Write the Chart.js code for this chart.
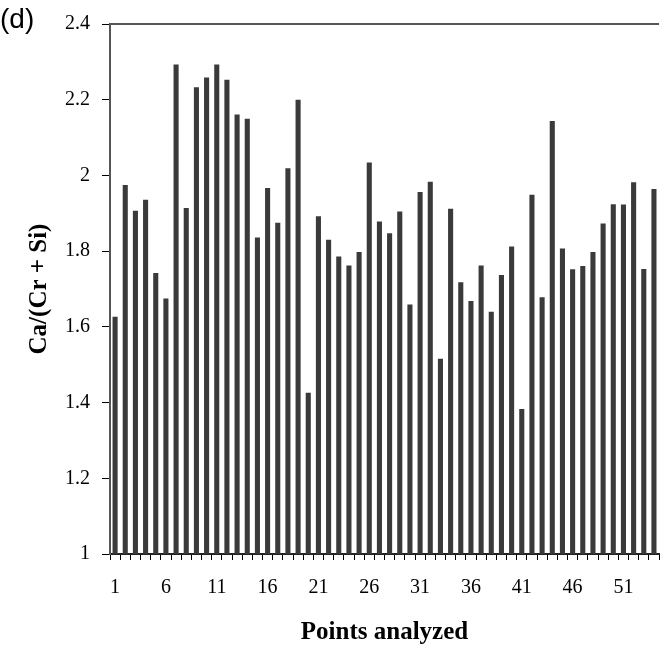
<!DOCTYPE html>
<html>
<head>
<meta charset="utf-8">
<script src="https://cdn.jsdelivr.net/npm/chart.js@4"></script>
<style>
  html, body { margin: 0; padding: 0; background: #fff; overflow: hidden; }
  #wrap { position: relative; width: 670px; height: 650px; }
  #panel { position: absolute; left: 0; top: 3px; font: 28px "Liberation Sans", Arial, sans-serif; color: #000; }
</style>
</head>
<body>
<div id="wrap">
  <canvas id="chart" width="670" height="650"></canvas>
  <div id="panel">(d)</div>
</div>
<script>
// points analyzed (category labels)
const points = [
    1, 2, 3, 4, 5, 6, 7, 8, 9, 10, 11, 12, 13, 14, 15, 16, 17, 18,
    19, 20, 21, 22, 23, 24, 25, 26, 27, 28, 29, 30, 31, 32, 33, 34, 35, 36,
    37, 38, 39, 40, 41, 42, 43, 44, 45, 46, 47, 48, 49, 50, 51, 52, 53, 54
];

// Ca/(Cr + Si) ratio
const ratio = [
    1.627, 1.975, 1.907, 1.936, 1.742, 1.675, 2.293, 1.914, 2.233, 2.259,
    2.293, 2.253, 2.161, 2.150, 1.836, 1.967, 1.875, 2.019, 2.200, 1.426,
    1.892, 1.830, 1.786, 1.762, 1.798, 2.034, 1.878, 1.847, 1.905, 1.659,
    1.956, 1.983, 1.516, 1.912, 1.718, 1.668, 1.762, 1.640, 1.737, 1.812,
    1.383, 1.949, 1.678, 2.144, 1.807, 1.752, 1.761, 1.798, 1.873, 1.924,
    1.923, 1.982, 1.753, 1.964
];

const yMin = 1;
const yMax = 2.4;
const yStep = 0.2;

const serif = '"Liberation Serif", "Times New Roman", serif';

// frame line along the top of the plot
const topFrame = {
    id: 'topFrame',
    afterDraw(chart) {
        const { ctx, chartArea } = chart;
        ctx.save();
        ctx.strokeStyle = '#555';
        ctx.lineWidth = 2;
        ctx.beginPath();
        ctx.moveTo(chartArea.left, chartArea.top);
        ctx.lineTo(chartArea.right, chartArea.top);
        ctx.stroke();
        ctx.restore();
    }
};

const ctx = document.getElementById('chart').getContext('2d');
new Chart(ctx, {
    type: 'bar',
    data: {
        labels: points,
        datasets: [{
            data: ratio,
            backgroundColor: '#3a3a3a',
            borderWidth: 0,
            barPercentage: 0.5,
            categoryPercentage: 1.0
        }]
    },
    options: {
        responsive: false,
        animation: false,
        layout: { padding: { left: 0, top: 20, right: 5, bottom: 0 } },
        plugins: {
            legend: { display: false },
            tooltip: { enabled: false }
        },
        scales: {
            x: {
                afterFit: scale => { scale.height = 96; },
                grid: {
                    drawOnChartArea: false,
                    drawTicks: true,
                    tickLength: 6,
                    color: '#000',
                    offset: true
                },
                border: { display: true, color: '#222', width: 2 },
                ticks: {
                    autoSkip: false,
                    maxRotation: 0,
                    padding: 16,
                    color: '#000',
                    font: { family: serif, size: 20 },
                    callback: (val, i) => (i % 5 === 0 ? points[i] : '')
                },
                title: {
                    display: true,
                    text: 'Points analyzed',
                    color: '#000',
                    font: { family: serif, size: 25, weight: 'bold' },
                    padding: { top: 0, bottom: 2 }
                }
            },
            y: {
                min: yMin,
                max: yMax,
                afterFit: scale => { scale.width = 110; },
                grid: {
                    drawOnChartArea: false,
                    drawTicks: true,
                    tickLength: 8,
                    color: '#000'
                },
                border: { display: true, color: '#555', width: 2 },
                ticks: {
                    stepSize: yStep,
                    padding: 12,
                    color: '#000',
                    font: { family: serif, size: 20 },
                    callback: v => String(+v.toFixed(1))
                },
                title: {
                    display: true,
                    text: 'Ca/(Cr + Si)',
                    color: '#000',
                    font: { family: serif, size: 25, weight: 'bold' },
                    padding: { top: 25, bottom: 0 }
                }
            }
        }
    },
    plugins: [topFrame]
});
</script>
</body>
</html>
